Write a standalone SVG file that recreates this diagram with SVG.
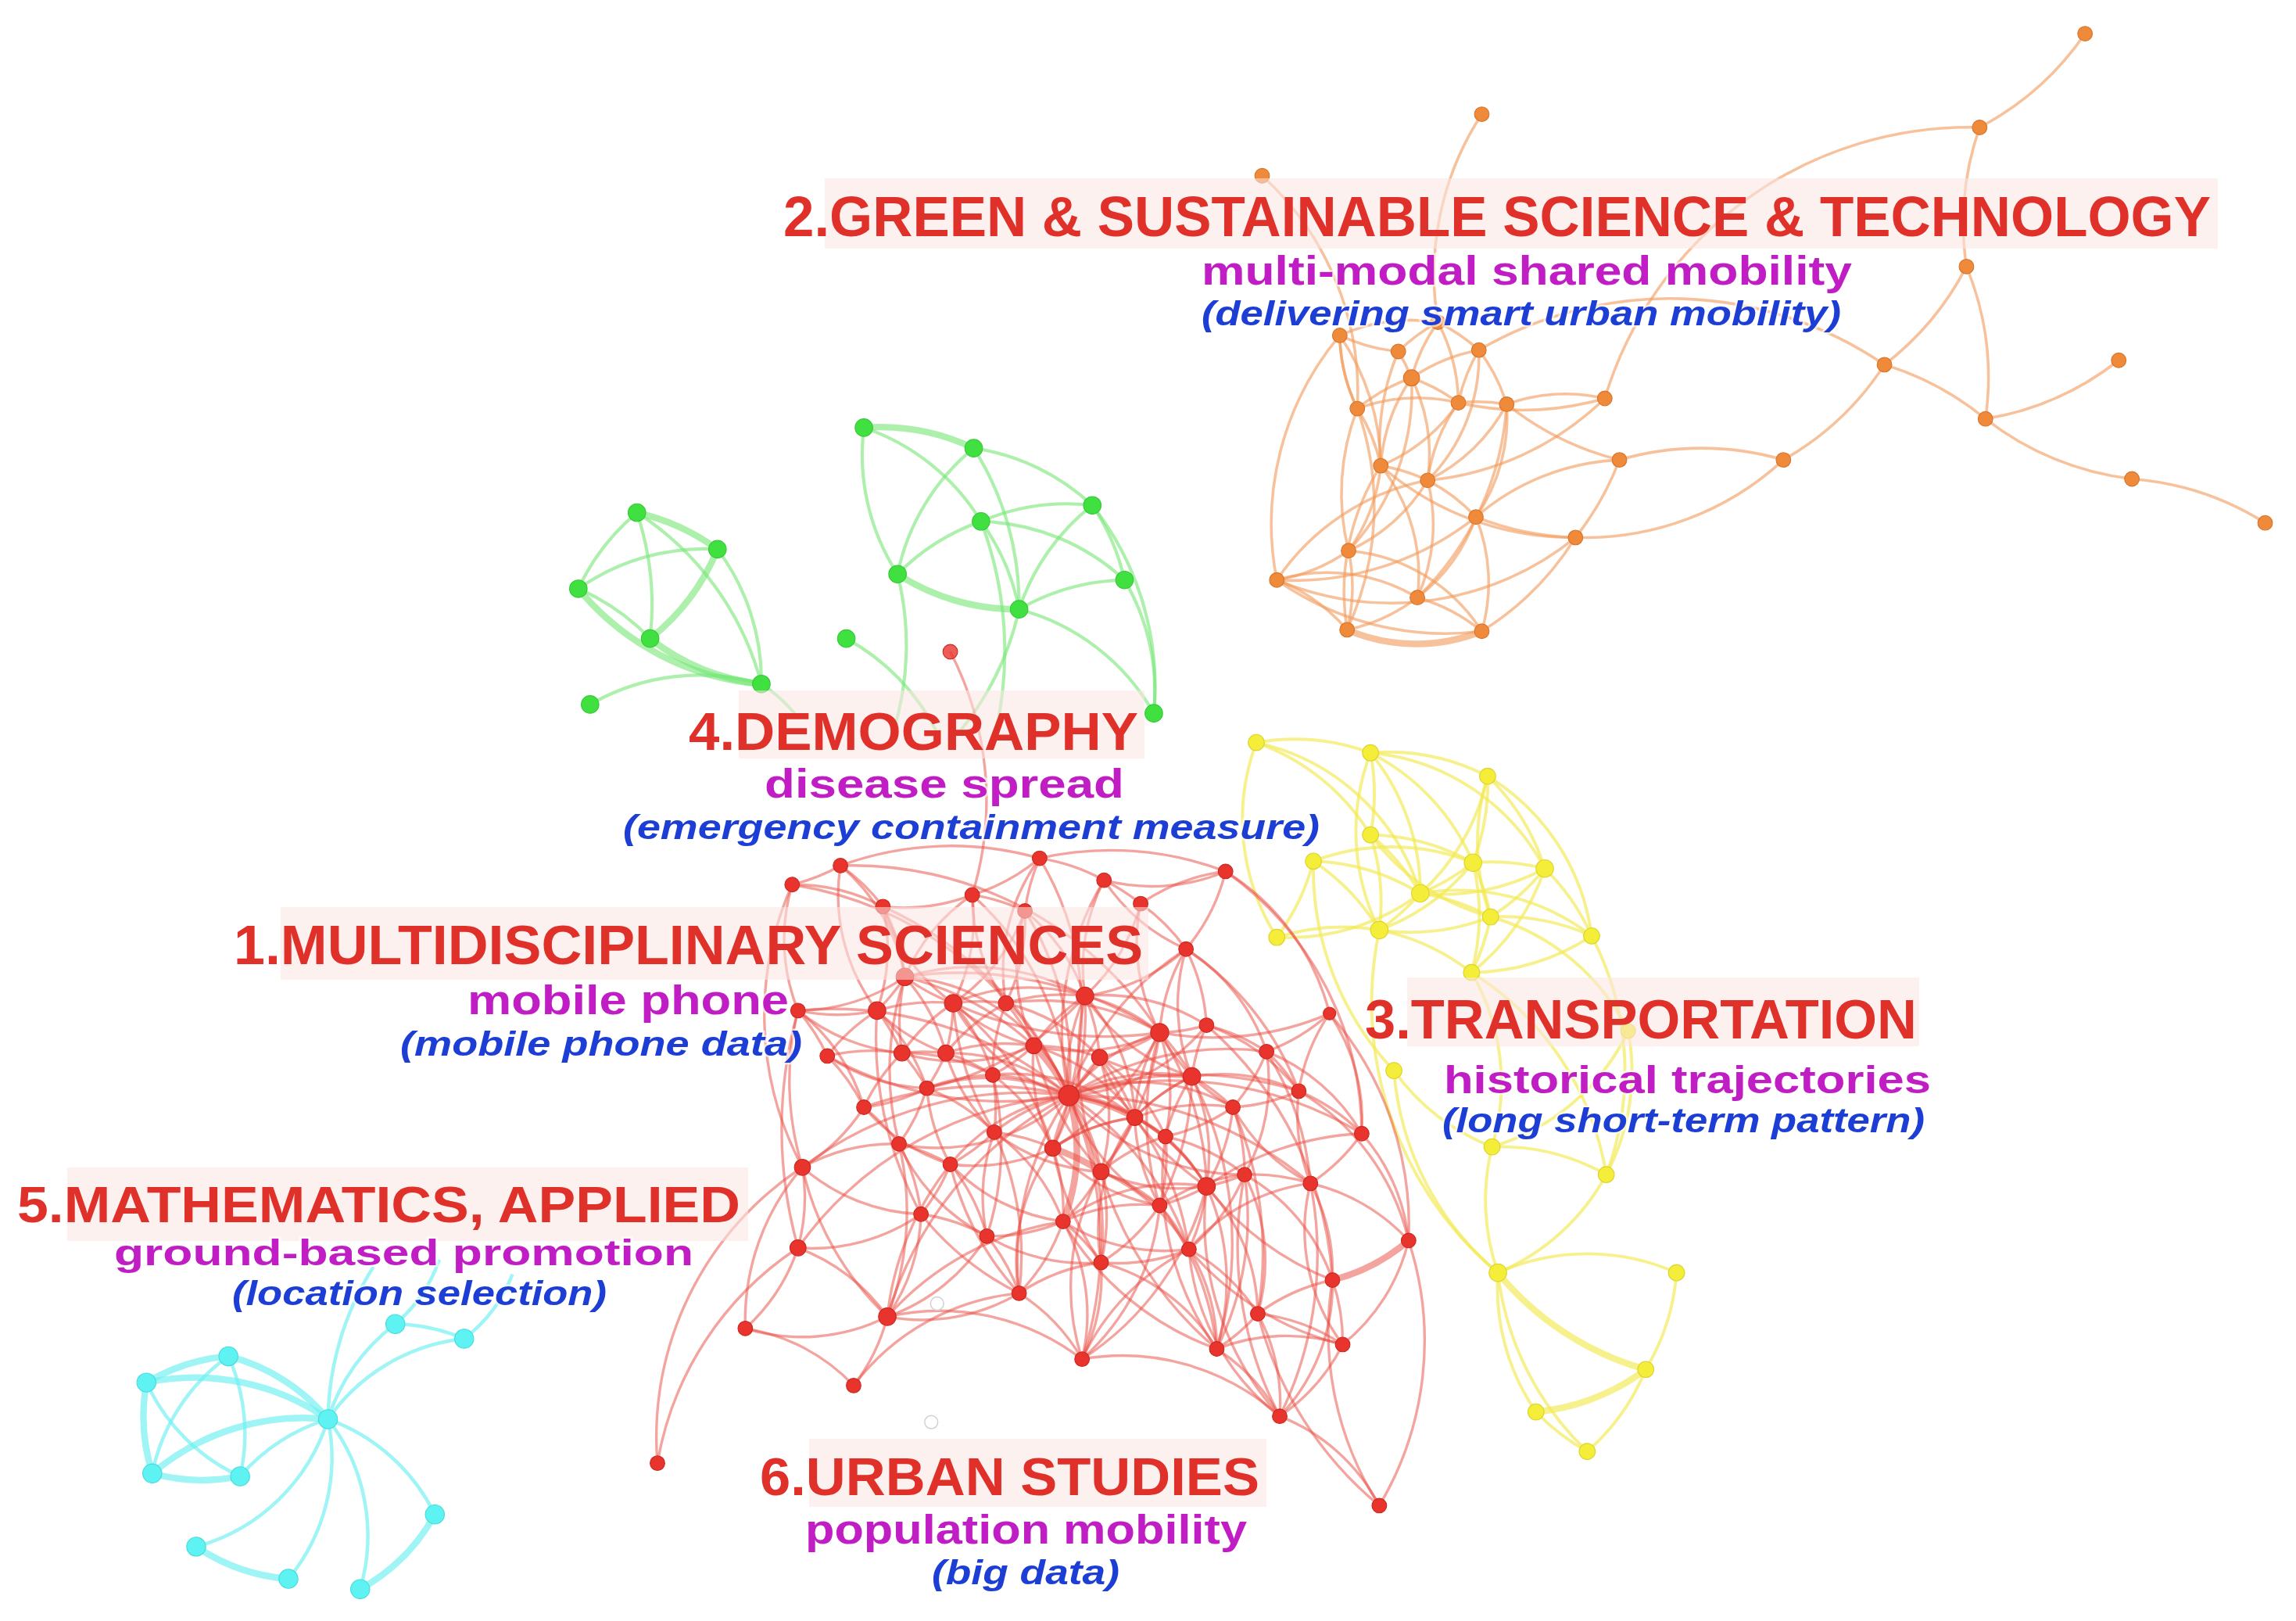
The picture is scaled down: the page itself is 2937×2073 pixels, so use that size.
<svg xmlns="http://www.w3.org/2000/svg" width="2937" height="2073" viewBox="0 0 2937 2073">
<style>
.er{fill:none;stroke:#ea4a40;stroke-opacity:.5;stroke-width:1.8}
.eo{fill:none;stroke:#f29a58;stroke-opacity:.6;stroke-width:1.9}
.eg{fill:none;stroke:#74e674;stroke-opacity:.6;stroke-width:2.2}
.ey{fill:none;stroke:#f2ea50;stroke-opacity:.65;stroke-width:2.1}
.ec{fill:none;stroke:#6cf0f0;stroke-opacity:.65;stroke-width:2.4}
.tk{stroke-width:4.5}
.nr{fill:#e8342c;stroke:#c82a22;stroke-width:.6}
.no{fill:#ee8a3a;stroke:#d8742c;stroke-width:.6}
.ng{fill:#40e040;stroke:#34c834;stroke-width:.6}
.ny{fill:#f4ee3a;stroke:#ddd42a;stroke-width:.6}
.nc{fill:#5ef2f2;stroke:#46dcdc;stroke-width:.6}
.nh{fill:#fff;stroke:#d0d0d0;stroke-width:.8}
.bg{fill:#fbe6e4;fill-opacity:.55}
.t{font-family:"Liberation Sans",Arial,sans-serif;font-weight:bold;fill:#e0302a}
.s{font-family:"Liberation Sans",Arial,sans-serif;font-weight:bold;fill:#c01ec4;stroke:#fff;stroke-width:5;stroke-opacity:.6;paint-order:stroke}
.p{font-family:"Liberation Sans",Arial,sans-serif;font-weight:bold;font-style:italic;fill:#1c3ed4;stroke:#fff;stroke-width:5;stroke-opacity:.6;paint-order:stroke}
</style>
<rect width="2937" height="2073" fill="#fff"/>
<g transform="scale(1.873)">
<g id="connectors">
<g id="edges-orange">
<path class="eo" d="M1424 23A200 200 0 0 1 1352 87"/>
<path class="eo" d="M1343 182A200 200 0 0 1 1352 87"/>
<path class="eo" d="M1096 272A260 260 0 0 1 1352 87"/>
<path class="eo" d="M1343 182A200 200 0 0 1 1287 249"/>
<path class="eo" d="M1343 182A200 200 0 0 1 1356 286"/>
<path class="eo" d="M1447 246A200 200 0 0 1 1356 286"/>
<path class="eo" d="M1287 249A200 200 0 0 1 1356 286"/>
<path class="eo" d="M1456 327A200 200 0 0 1 1356 286"/>
<path class="eo" d="M1456 327A200 200 0 0 1 1547 357"/>
<path class="eo" d="M1287 249A200 200 0 0 1 1218 314"/>
<path class="eo" d="M1218 314A200 200 0 0 1 1076 367"/>
<path class="eo" d="M1106 314A200 200 0 0 1 1218 314"/>
<path class="eo" d="M1106 314A200 200 0 0 1 1076 367"/>
<path class="eo" d="M1076 367A200 200 0 0 1 1008 353"/>
<path class="eo" d="M1096 272A200 200 0 0 1 996 275"/>
<path class="eo" d="M1096 272A200 200 0 0 1 975 328"/>
<path class="eo" d="M1012 78A200 200 0 0 0 982 220"/>
<path class="eo" d="M862 120A200 200 0 0 1 927 279"/>
<path class="eo" d="M1076 367A200 200 0 0 1 943 318"/>
<path class="eo" d="M1076 367A200 200 0 0 1 872 396"/>
<path class="eo" d="M1106 314A200 200 0 0 1 1029 276"/>
<path class="eo" d="M1010 239A260 260 0 0 1 1287 249"/>
<path class="eo" d="M927 279A120 120 0 0 1 964 258"/>
<path class="eo" d="M927 279A120 120 0 0 1 996 275"/>
<path class="eo" d="M964 258A120 120 0 0 1 996 275"/>
<path class="eo" d="M996 275A120 120 0 0 1 1029 276"/>
<path class="eo" d="M964 258A120 120 0 0 1 1010 239"/>
<path class="eo" d="M1010 239A120 120 0 0 1 1029 276"/>
<path class="eo" d="M915 229A120 120 0 0 1 982 220"/>
<path class="eo" d="M982 220A120 120 0 0 1 1010 239"/>
<path class="eo" d="M927 279A120 120 0 0 1 915 229"/>
<path class="eo" d="M955 240A120 120 0 0 1 964 258"/>
<path class="eo" d="M955 240A120 120 0 0 1 915 229"/>
<path class="eo" d="M955 240A120 120 0 0 1 982 220"/>
<path class="eo" d="M927 279A120 120 0 0 1 943 318"/>
<path class="eo" d="M943 318A120 120 0 0 1 975 328"/>
<path class="eo" d="M964 258A120 120 0 0 1 975 328"/>
<path class="eo" d="M975 328A120 120 0 0 1 996 275"/>
<path class="eo" d="M1029 276A120 120 0 0 1 1008 353"/>
<path class="eo" d="M975 328A120 120 0 0 1 1008 353"/>
<path class="eo" d="M943 318A120 120 0 0 1 921 376"/>
<path class="eo" d="M975 328A120 120 0 0 1 921 376"/>
<path class="eo" d="M921 376A120 120 0 0 1 872 396"/>
<path class="eo" d="M921 376A120 120 0 0 1 920 430"/>
<path class="eo" d="M872 396A120 120 0 0 1 920 430"/>
<path class="eo" d="M872 396A120 120 0 0 1 968 408"/>
<path class="eo" d="M968 408A120 120 0 0 1 920 430"/>
<path class="eo tk" d="M920 430A120 120 0 0 0 1012 431"/>
<path class="eo" d="M968 408A120 120 0 0 1 1012 431"/>
<path class="eo" d="M1008 353A120 120 0 0 1 968 408"/>
<path class="eo" d="M1008 353A120 120 0 0 1 1012 431"/>
<path class="eo" d="M975 328A120 120 0 0 1 968 408"/>
<path class="eo" d="M943 318A160 160 0 0 0 920 430"/>
<path class="eo" d="M927 279A160 160 0 0 0 921 376"/>
<path class="eo" d="M1029 276A120 120 0 0 1 975 328"/>
<path class="eo" d="M996 275A120 120 0 0 1 943 318"/>
<path class="eo" d="M921 376A120 120 0 0 1 1012 431"/>
<path class="eo" d="M872 396A200 200 0 0 0 1012 431"/>
<path class="eo" d="M1008 353A200 200 0 0 1 872 396"/>
<path class="eo" d="M1010 239A120 120 0 0 1 975 328"/>
<path class="eo" d="M927 279A200 200 0 0 1 920 430"/>
<path class="eo" d="M964 258A160 160 0 0 1 921 376"/>
<path class="eo" d="M915 229A160 160 0 0 1 943 318"/>
<path class="eo" d="M982 220A120 120 0 0 1 996 275"/>
<path class="eo" d="M1029 276A120 120 0 0 1 1096 272"/>
<path class="eo" d="M943 318A120 120 0 0 1 968 408"/>
<path class="eo" d="M872 396A160 160 0 0 1 975 328"/>
<path class="eo" d="M1008 353A160 160 0 0 1 1106 314"/>
<path class="eo" d="M1012 431A200 200 0 0 0 1076 367"/>
<path class="eo" d="M915 229A120 120 0 0 0 927 279"/>
<path class="eo" d="M982 220A120 120 0 0 0 964 258"/>
<path class="eo" d="M964 258A120 120 0 0 0 943 318"/>
<path class="eo" d="M1010 239A120 120 0 0 0 996 275"/>
<path class="eo" d="M955 240A160 160 0 0 0 943 318"/>
<path class="eo" d="M915 229A200 200 0 0 0 872 396"/>
<path class="eo" d="M1029 276A200 200 0 0 1 968 408"/>
</g>
<g id="edges-green">
<path class="eg tk" d="M435 350A150 150 0 0 1 490 375"/>
<path class="eg" d="M395 402A150 150 0 0 1 435 350"/>
<path class="eg" d="M435 350A200 200 0 0 1 444 436"/>
<path class="eg" d="M435 350A200 200 0 0 1 520 467"/>
<path class="eg" d="M395 402A150 150 0 0 1 490 375"/>
<path class="eg tk" d="M490 375A150 150 0 0 1 444 436"/>
<path class="eg" d="M490 375A150 150 0 0 1 520 467"/>
<path class="eg" d="M395 402A150 150 0 0 1 444 436"/>
<path class="eg tk" d="M395 402A180 180 0 0 0 520 467"/>
<path class="eg tk" d="M444 436A150 150 0 0 0 520 467"/>
<path class="eg" d="M403 481A150 150 0 0 1 520 467"/>
<path class="eg tk" d="M590 292A150 150 0 0 1 665 306"/>
<path class="eg" d="M613 392A150 150 0 0 1 590 292"/>
<path class="eg" d="M590 292A150 150 0 0 1 670 356"/>
<path class="eg" d="M665 306A150 150 0 0 1 746 345"/>
<path class="eg" d="M665 306A150 150 0 0 0 613 392"/>
<path class="eg" d="M665 306A200 200 0 0 1 696 416"/>
<path class="eg" d="M746 345A150 150 0 0 0 670 356"/>
<path class="eg" d="M746 345A150 150 0 0 0 696 416"/>
<path class="eg" d="M746 345A150 150 0 0 1 768 396"/>
<path class="eg" d="M746 345A200 200 0 0 1 788 487"/>
<path class="eg" d="M670 356A150 150 0 0 0 613 392"/>
<path class="eg" d="M670 356A150 150 0 0 1 768 396"/>
<path class="eg" d="M670 356A150 150 0 0 1 696 416"/>
<path class="eg tk" d="M613 392A150 150 0 0 0 696 416"/>
<path class="eg" d="M768 396A150 150 0 0 0 696 416"/>
<path class="eg" d="M768 396A150 150 0 0 1 788 487"/>
<path class="eg" d="M696 416A150 150 0 0 1 788 487"/>
<path class="eg" d="M578 436A150 150 0 0 1 640 500"/>
<path class="eg" d="M613 392A200 200 0 0 1 610 500"/>
<path class="eg" d="M696 416A200 200 0 0 1 655 500"/>
<path class="eg" d="M670 356A250 250 0 0 1 680 500"/>
<path class="eg" d="M520 467A100 100 0 0 1 545 490"/>
</g>
<g id="edges-yellow">
<path class="ey" d="M858 507A150 150 0 0 1 936 514"/>
<path class="ey" d="M858 507A150 150 0 0 1 970 610"/>
<path class="ey" d="M872 640A150 150 0 0 1 858 507"/>
<path class="ey" d="M936 514A150 150 0 0 1 936 570"/>
<path class="ey" d="M936 514A150 150 0 0 1 1016 530"/>
<path class="ey" d="M936 514A150 150 0 0 1 970 610"/>
<path class="ey" d="M936 514A150 150 0 0 1 1006 589"/>
<path class="ey" d="M942 635A150 150 0 0 1 936 514"/>
<path class="ey" d="M1016 530A150 150 0 0 1 1006 589"/>
<path class="ey" d="M1016 530A150 150 0 0 1 1055 593"/>
<path class="ey" d="M1016 530A150 150 0 0 0 1018 626"/>
<path class="ey" d="M1016 530A150 150 0 0 1 1087 639"/>
<path class="ey" d="M936 570A150 150 0 0 1 970 610"/>
<path class="ey" d="M936 570A150 150 0 0 1 942 635"/>
<path class="ey" d="M936 570A150 150 0 0 1 1006 589"/>
<path class="ey" d="M897 588A150 150 0 0 1 1006 589"/>
<path class="ey" d="M897 588A150 150 0 0 1 970 610"/>
<path class="ey" d="M897 588A150 150 0 0 1 872 640"/>
<path class="ey" d="M897 588A150 150 0 0 1 942 635"/>
<path class="ey" d="M1006 589A150 150 0 0 1 1055 593"/>
<path class="ey" d="M1006 589A150 150 0 0 1 970 610"/>
<path class="ey" d="M1006 589A150 150 0 0 1 1018 626"/>
<path class="ey" d="M1006 589A150 150 0 0 1 942 635"/>
<path class="ey" d="M1006 589A150 150 0 0 1 1005 664"/>
<path class="ey" d="M1055 593A150 150 0 0 1 1018 626"/>
<path class="ey" d="M1055 593A150 150 0 0 1 1087 639"/>
<path class="ey" d="M1055 593A150 150 0 0 1 1005 664"/>
<path class="ey" d="M970 610A150 150 0 0 1 1018 626"/>
<path class="ey" d="M970 610A150 150 0 0 1 1087 639"/>
<path class="ey" d="M970 610A150 150 0 0 1 942 635"/>
<path class="ey" d="M1018 626A150 150 0 0 1 1087 639"/>
<path class="ey" d="M1018 626A150 150 0 0 1 1005 664"/>
<path class="ey" d="M872 640A150 150 0 0 1 942 635"/>
<path class="ey" d="M872 640A150 150 0 0 0 970 610"/>
<path class="ey" d="M942 635A150 150 0 0 1 1005 664"/>
<path class="ey" d="M942 635A150 150 0 0 0 1018 626"/>
<path class="ey" d="M1087 639A150 150 0 0 1 1005 664"/>
<path class="ey" d="M858 507A150 150 0 0 1 936 570"/>
<path class="ey" d="M1016 530A150 150 0 0 1 970 610"/>
<path class="ey" d="M936 514A150 150 0 0 1 1055 593"/>
<path class="ey" d="M970 610A150 150 0 0 0 1055 593"/>
<path class="ey" d="M936 570A150 150 0 0 0 1018 626"/>
<path class="ey" d="M942 635A240 240 0 0 0 1023 869"/>
<path class="ey" d="M952 731A200 200 0 0 0 1023 869"/>
<path class="ey" d="M1005 664A150 150 0 0 1 1019 783"/>
<path class="ey" d="M1087 639A200 200 0 0 1 1097 802"/>
<path class="ey" d="M1019 783A150 150 0 0 1 1097 802"/>
<path class="ey" d="M1019 783A150 150 0 0 0 1023 869"/>
<path class="ey" d="M1097 802A150 150 0 0 1 1023 869"/>
<path class="ey" d="M1023 869A150 150 0 0 1 1145 869"/>
<path class="ey tk" d="M1023 869A200 200 0 0 0 1124 935"/>
<path class="ey" d="M1023 869A150 150 0 0 0 1049 964"/>
<path class="ey" d="M1023 869A200 200 0 0 0 1084 991"/>
<path class="ey" d="M1145 869A150 150 0 0 1 1124 935"/>
<path class="ey tk" d="M1124 935A150 150 0 0 1 1049 964"/>
<path class="ey" d="M1049 964A150 150 0 0 0 1084 991"/>
<path class="ey" d="M1124 935A150 150 0 0 1 1084 991"/>
<path class="ey" d="M1018 626A150 150 0 0 1 1112 704"/>
<path class="ey" d="M1112 704A150 150 0 0 1 1097 802"/>
<path class="ey" d="M1019 783A150 150 0 0 0 1112 704"/>
<path class="ey" d="M952 731A150 150 0 0 0 1019 783"/>
<path class="ey" d="M897 588A200 200 0 0 0 952 731"/>
<path class="ey" d="M1005 664A200 200 0 0 1 1097 802"/>
</g>
<g id="edges-cyan">
<path class="ec tk" d="M100 944A130 130 0 0 1 156 926"/>
<path class="ec tk" d="M156 926A130 130 0 0 1 224 969"/>
<path class="ec" d="M156 926A130 130 0 0 0 104 1006"/>
<path class="ec" d="M156 926A130 130 0 0 1 164 1008"/>
<path class="ec tk" d="M100 944A130 130 0 0 0 104 1006"/>
<path class="ec" d="M100 944A130 130 0 0 0 164 1008"/>
<path class="ec tk" d="M100 944A160 160 0 0 1 224 969"/>
<path class="ec tk" d="M104 1006A130 130 0 0 0 164 1008"/>
<path class="ec tk" d="M104 1006A160 160 0 0 1 224 969"/>
<path class="ec" d="M164 1008A130 130 0 0 1 224 969"/>
<path class="ec" d="M224 969A130 130 0 0 1 270 904"/>
<path class="ec" d="M224 969A130 130 0 0 1 317 914"/>
<path class="ec" d="M270 904A130 130 0 0 1 317 914"/>
<path class="ec" d="M224 969A130 130 0 0 1 297 1034"/>
<path class="ec" d="M224 969A130 130 0 0 1 134 1056"/>
<path class="ec" d="M224 969A130 130 0 0 1 197 1078"/>
<path class="ec" d="M224 969A130 130 0 0 1 246 1085"/>
<path class="ec tk" d="M297 1034A130 130 0 0 1 246 1085"/>
<path class="ec tk" d="M134 1056A130 130 0 0 0 197 1078"/>
<path class="ec" d="M224 969A200 200 0 0 1 255 865"/>
<path class="ec" d="M270 904A100 100 0 0 0 300 860"/>
<path class="ec" d="M317 914A100 100 0 0 0 350 870"/>
</g>
<g id="edges-red">
<path class="er" d="M574 591A130 130 0 0 1 541 604"/>
<path class="er" d="M574 591A220 220 0 0 1 710 586"/>
<path class="er" d="M574 591A130 130 0 0 1 603 619"/>
<path class="er" d="M574 591A130 130 0 0 1 618 667"/>
<path class="er" d="M541 604A130 130 0 0 1 603 619"/>
<path class="er" d="M545 690A130 130 0 0 1 541 604"/>
<path class="er" d="M710 586A130 130 0 0 1 664 611"/>
<path class="er" d="M710 586A130 130 0 0 1 754 601"/>
<path class="er" d="M700 622A130 130 0 0 1 710 586"/>
<path class="er" d="M837 595A130 130 0 0 1 754 601"/>
<path class="er" d="M779 617A130 130 0 0 1 837 595"/>
<path class="er" d="M837 595A130 130 0 0 1 810 648"/>
<path class="er" d="M837 595A160 160 0 0 1 908 692"/>
<path class="er" d="M664 611A130 130 0 0 1 603 619"/>
<path class="er" d="M664 611A130 130 0 0 1 700 622"/>
<path class="er" d="M618 667A130 130 0 0 1 664 611"/>
<path class="er" d="M664 611A130 130 0 0 1 651 685"/>
<path class="er" d="M754 601A130 130 0 0 1 779 617"/>
<path class="er" d="M741 680A130 130 0 0 1 754 601"/>
<path class="er" d="M779 617A130 130 0 0 1 810 648"/>
<path class="er" d="M779 617A130 130 0 0 1 741 680"/>
<path class="er" d="M603 619A130 130 0 0 1 618 667"/>
<path class="er" d="M700 622A130 130 0 0 1 687 685"/>
<path class="er" d="M700 622A130 130 0 0 1 741 680"/>
<path class="er" d="M810 648A130 130 0 0 1 824 700"/>
<path class="er" d="M792 705A130 130 0 0 1 810 648"/>
<path class="er" d="M810 648A130 130 0 0 1 865 718"/>
<path class="er" d="M908 692A130 130 0 0 1 865 718"/>
<path class="er" d="M908 692A130 130 0 0 1 930 774"/>
<path class="er" d="M887 745A130 130 0 0 1 908 692"/>
<path class="er" d="M618 667A130 130 0 0 1 599 690"/>
<path class="er" d="M651 685A130 130 0 0 1 618 667"/>
<path class="er" d="M618 667A130 130 0 0 1 545 690"/>
<path class="er" d="M599 690A130 130 0 0 1 545 690"/>
<path class="er" d="M565 721A130 130 0 0 1 599 690"/>
<path class="er" d="M599 690A130 130 0 0 1 616 719"/>
<path class="er" d="M651 685A130 130 0 0 1 687 685"/>
<path class="er" d="M616 719A130 130 0 0 1 651 685"/>
<path class="er" d="M651 685A130 130 0 0 1 646 719"/>
<path class="er" d="M687 685A130 130 0 0 1 741 680"/>
<path class="er" d="M687 685A130 130 0 0 1 706 714"/>
<path class="er" d="M678 734A130 130 0 0 1 687 685"/>
<path class="er" d="M741 680A130 130 0 0 1 792 705"/>
<path class="er" d="M706 714A130 130 0 0 1 741 680"/>
<path class="er" d="M741 680A130 130 0 0 1 751 722"/>
<path class="er" d="M545 690A130 130 0 0 1 565 721"/>
<path class="er" d="M824 700A130 130 0 0 1 792 705"/>
<path class="er" d="M824 700A130 130 0 0 1 865 718"/>
<path class="er" d="M814 735A130 130 0 0 1 824 700"/>
<path class="er" d="M824 700A130 130 0 0 1 887 745"/>
<path class="er" d="M792 705A130 130 0 0 1 751 722"/>
<path class="er" d="M792 705A130 130 0 0 1 814 735"/>
<path class="er" d="M775 763A130 130 0 0 1 792 705"/>
<path class="er" d="M865 718A130 130 0 0 1 887 745"/>
<path class="er" d="M865 718A130 130 0 0 1 850 802"/>
<path class="er" d="M865 718A130 130 0 0 1 930 774"/>
<path class="er" d="M565 721A130 130 0 0 1 590 756"/>
<path class="er" d="M616 719A130 130 0 0 1 633 743"/>
<path class="er" d="M590 756A130 130 0 0 1 616 719"/>
<path class="er" d="M646 719A130 130 0 0 1 678 734"/>
<path class="er" d="M646 719A130 130 0 0 1 633 743"/>
<path class="er" d="M706 714A130 130 0 0 1 751 722"/>
<path class="er" d="M706 714A130 130 0 0 1 678 734"/>
<path class="er tk" d="M706 714A130 130 0 0 1 730 748"/>
<path class="er" d="M751 722A130 130 0 0 1 730 748"/>
<path class="er" d="M751 722A130 130 0 0 1 775 763"/>
<path class="er" d="M814 735A130 130 0 0 1 842 756"/>
<path class="er" d="M796 776A130 130 0 0 1 814 735"/>
<path class="er" d="M814 735A130 130 0 0 1 824 810"/>
<path class="er" d="M678 734A130 130 0 0 1 730 748"/>
<path class="er" d="M678 734A130 130 0 0 1 679 773"/>
<path class="er tk" d="M730 748A130 130 0 0 1 775 763"/>
<path class="er" d="M679 773A130 130 0 0 1 730 748"/>
<path class="er" d="M730 748A130 130 0 0 1 719 784"/>
<path class="er" d="M730 748A130 130 0 0 1 752 800"/>
<path class="er" d="M730 748A130 130 0 0 1 796 776"/>
<path class="er" d="M730 748A130 130 0 0 1 741 680"/>
<path class="er" d="M730 748A130 130 0 0 1 792 705"/>
<path class="er" d="M646 719A130 130 0 0 1 730 748"/>
<path class="er" d="M730 748A130 130 0 0 1 651 685"/>
<path class="er" d="M618 667A130 130 0 0 1 730 748"/>
<path class="er" d="M824 700A130 130 0 0 1 730 748"/>
<path class="er" d="M730 748A130 130 0 0 1 842 756"/>
<path class="er" d="M730 748A130 130 0 0 1 814 735"/>
<path class="er" d="M633 743A130 130 0 0 1 590 756"/>
<path class="er" d="M633 743A130 130 0 0 1 614 781"/>
<path class="er" d="M590 756A130 130 0 0 1 614 781"/>
<path class="er" d="M590 756A130 130 0 0 1 548 797"/>
<path class="er" d="M887 745A130 130 0 0 1 842 756"/>
<path class="er" d="M887 745A130 130 0 0 1 930 774"/>
<path class="er" d="M895 808A130 130 0 0 1 887 745"/>
<path class="er" d="M887 745A160 160 0 0 1 962 847"/>
<path class="er" d="M842 756A130 130 0 0 1 850 802"/>
<path class="er" d="M775 763A130 130 0 0 1 796 776"/>
<path class="er" d="M775 763A130 130 0 0 1 752 800"/>
<path class="er" d="M752 862A130 130 0 0 1 775 763"/>
<path class="er" d="M679 773A130 130 0 0 1 719 784"/>
<path class="er" d="M679 773A130 130 0 0 1 649 795"/>
<path class="er" d="M674 844A130 130 0 0 1 679 773"/>
<path class="er" d="M614 781A130 130 0 0 1 649 795"/>
<path class="er" d="M548 797A130 130 0 0 1 614 781"/>
<path class="er" d="M614 781A130 130 0 0 1 629 829"/>
<path class="er tk" d="M719 784A130 130 0 0 1 752 800"/>
<path class="er" d="M719 784A130 130 0 0 1 726 834"/>
<path class="er" d="M696 883A130 130 0 0 1 719 784"/>
<path class="er" d="M796 776A130 130 0 0 1 792 823"/>
<path class="er" d="M930 774A130 130 0 0 1 895 808"/>
<path class="er" d="M930 774A130 130 0 0 1 962 847"/>
<path class="er" d="M649 795A130 130 0 0 1 629 829"/>
<path class="er" d="M649 795A130 130 0 0 1 674 844"/>
<path class="er" d="M752 800A130 130 0 0 1 792 823"/>
<path class="er" d="M752 800A130 130 0 0 1 726 834"/>
<path class="er" d="M752 800A130 130 0 0 1 752 862"/>
<path class="er" d="M739 928A160 160 0 0 1 752 800"/>
<path class="er" d="M548 797A130 130 0 0 1 545 852"/>
<path class="er" d="M850 802A130 130 0 0 1 824 810"/>
<path class="er" d="M850 802A130 130 0 0 1 895 808"/>
<path class="er" d="M850 802A130 130 0 0 1 910 874"/>
<path class="er" d="M824 810A130 130 0 0 1 792 823"/>
<path class="er" d="M824 810A130 130 0 0 1 812 853"/>
<path class="er" d="M824 810A130 130 0 0 1 859 897"/>
<path class="er" d="M895 808A130 130 0 0 1 962 847"/>
<path class="er" d="M895 808A130 130 0 0 1 910 874"/>
<path class="er" d="M917 918A130 130 0 0 1 895 808"/>
<path class="er" d="M792 823A130 130 0 0 1 812 853"/>
<path class="er" d="M792 823A160 160 0 0 1 739 928"/>
<path class="er" d="M629 829A130 130 0 0 1 545 852"/>
<path class="er" d="M629 829A130 130 0 0 1 674 844"/>
<path class="er" d="M629 829A130 130 0 0 1 606 899"/>
<path class="er" d="M726 834A130 130 0 0 1 674 844"/>
<path class="er" d="M726 834A130 130 0 0 1 752 862"/>
<path class="er" d="M726 834A130 130 0 0 1 696 883"/>
<path class="er" d="M545 852A130 130 0 0 1 606 899"/>
<path class="er" d="M545 852A130 130 0 0 1 509 907"/>
<path class="er" d="M449 999A220 220 0 0 1 545 852"/>
<path class="er" d="M674 844A130 130 0 0 1 696 883"/>
<path class="er" d="M674 844A130 130 0 0 1 606 899"/>
<path class="er" d="M812 853A130 130 0 0 1 752 862"/>
<path class="er" d="M812 853A130 130 0 0 1 859 897"/>
<path class="er" d="M812 853A130 130 0 0 1 831 921"/>
<path class="er" d="M874 967A160 160 0 0 1 812 853"/>
<path class="er tk" d="M962 847A130 130 0 0 1 910 874"/>
<path class="er" d="M962 847A130 130 0 0 1 917 918"/>
<path class="er" d="M962 847A220 220 0 0 1 942 1028"/>
<path class="er" d="M752 862A130 130 0 0 1 831 921"/>
<path class="er" d="M752 862A130 130 0 0 1 739 928"/>
<path class="er" d="M910 874A130 130 0 0 1 917 918"/>
<path class="er" d="M910 874A130 130 0 0 1 874 967"/>
<path class="er" d="M696 883A130 130 0 0 1 606 899"/>
<path class="er" d="M696 883A130 130 0 0 1 739 928"/>
<path class="er" d="M606 899A130 130 0 0 1 509 907"/>
<path class="er" d="M606 899A160 160 0 0 1 739 928"/>
<path class="er" d="M606 899A130 130 0 0 1 583 946"/>
<path class="er" d="M859 897A130 130 0 0 1 831 921"/>
<path class="er" d="M859 897A130 130 0 0 1 917 918"/>
<path class="er" d="M859 897A130 130 0 0 1 874 967"/>
<path class="er" d="M509 907A160 160 0 0 1 548 797"/>
<path class="er" d="M831 921A130 130 0 0 1 917 918"/>
<path class="er" d="M831 921A130 130 0 0 1 874 967"/>
<path class="er" d="M917 918A130 130 0 0 1 874 967"/>
<path class="er" d="M874 967A130 130 0 0 1 942 1028"/>
<path class="er" d="M942 1028A220 220 0 0 1 910 874"/>
<path class="er" d="M449 999A220 220 0 0 1 548 797"/>
<path class="er" d="M739 928A160 160 0 0 1 874 967"/>
<path class="er" d="M649 445A220 220 0 0 1 664 611"/>
<path class="er" d="M548 797A220 220 0 0 1 541 604"/>
<path class="er" d="M710 586A220 220 0 0 1 837 595"/>
<path class="er" d="M837 595A220 220 0 0 1 930 774"/>
<path class="er" d="M700 622A130 130 0 0 1 651 685"/>
<path class="er" d="M706 714A130 130 0 0 1 775 763"/>
<path class="er" d="M678 734A130 130 0 0 1 719 784"/>
<path class="er" d="M633 743A130 130 0 0 1 679 773"/>
<path class="er" d="M616 719A130 130 0 0 1 646 719"/>
<path class="er" d="M842 756A130 130 0 0 1 796 776"/>
<path class="er" d="M796 776A130 130 0 0 1 824 810"/>
<path class="er" d="M824 810A160 160 0 0 1 831 921"/>
<path class="er" d="M792 823A130 130 0 0 1 752 862"/>
<path class="er" d="M726 834A130 130 0 0 1 739 928"/>
<path class="er" d="M775 763A130 130 0 0 1 814 735"/>
<path class="er" d="M741 680A130 130 0 0 1 775 763"/>
<path class="er" d="M583 946A160 160 0 0 1 696 883"/>
<path class="er" d="M509 907A130 130 0 0 1 583 946"/>
<path class="er" d="M603 619A130 130 0 0 1 599 690"/>
<path class="er" d="M865 718A130 130 0 0 1 842 756"/>
<path class="er" d="M850 802A130 130 0 0 1 859 897"/>
<path class="er" d="M719 784A130 130 0 0 1 775 763"/>
<path class="er" d="M751 722A130 130 0 0 1 752 800"/>
<path class="er" d="M908 692A220 220 0 0 1 962 847"/>
<path class="er" d="M618 667A130 130 0 0 0 616 719"/>
<path class="er" d="M618 667A130 130 0 0 1 646 719"/>
<path class="er" d="M618 667A160 160 0 0 1 741 680"/>
<path class="er" d="M599 690A130 130 0 0 1 651 685"/>
<path class="er" d="M599 690A130 130 0 0 0 646 719"/>
<path class="er" d="M599 690A130 130 0 0 1 633 743"/>
<path class="er" d="M651 685A130 130 0 0 1 741 680"/>
<path class="er" d="M651 685A130 130 0 0 0 706 714"/>
<path class="er" d="M651 685A130 130 0 0 1 678 734"/>
<path class="er" d="M687 685A130 130 0 0 1 751 722"/>
<path class="er" d="M687 685A130 130 0 0 0 646 719"/>
<path class="er" d="M687 685A160 160 0 0 1 792 705"/>
<path class="er" d="M741 680A130 130 0 0 0 814 735"/>
<path class="er" d="M741 680A130 130 0 0 1 824 700"/>
<path class="er" d="M545 690A130 130 0 0 0 616 719"/>
<path class="er" d="M545 690A130 130 0 0 1 590 756"/>
<path class="er" d="M706 714A130 130 0 0 0 792 705"/>
<path class="er" d="M792 705A130 130 0 0 0 842 756"/>
<path class="er" d="M792 705A130 130 0 0 1 796 776"/>
<path class="er" d="M565 721A130 130 0 0 1 616 719"/>
<path class="er" d="M565 721A130 130 0 0 0 633 743"/>
<path class="er" d="M616 719A130 130 0 0 0 706 714"/>
<path class="er" d="M616 719A130 130 0 0 1 678 734"/>
<path class="er" d="M646 719A130 130 0 0 1 706 714"/>
<path class="er" d="M646 719A130 130 0 0 0 679 773"/>
<path class="er" d="M706 714A130 130 0 0 0 719 784"/>
<path class="er" d="M751 722A130 130 0 0 0 814 735"/>
<path class="er" d="M751 722A130 130 0 0 1 796 776"/>
<path class="er" d="M751 722A130 130 0 0 0 719 784"/>
<path class="er" d="M814 735A130 130 0 0 0 775 763"/>
<path class="er" d="M814 735A130 130 0 0 1 887 745"/>
<path class="er" d="M678 734A130 130 0 0 0 633 743"/>
<path class="er" d="M678 734A130 130 0 0 1 775 763"/>
<path class="er" d="M633 743A130 130 0 0 1 730 748"/>
<path class="er" d="M730 748A130 130 0 0 1 614 781"/>
<path class="er" d="M730 748A130 130 0 0 0 649 795"/>
<path class="er tk" d="M730 748A130 130 0 0 1 726 834"/>
<path class="er" d="M730 748A130 130 0 0 0 792 823"/>
<path class="er" d="M730 748A130 130 0 0 1 824 810"/>
<path class="er" d="M730 748A160 160 0 0 0 850 802"/>
<path class="er" d="M633 743A130 130 0 0 0 649 795"/>
<path class="er" d="M590 756A130 130 0 0 0 649 795"/>
<path class="er" d="M842 756A130 130 0 0 0 775 763"/>
<path class="er" d="M842 756A130 130 0 0 1 824 810"/>
<path class="er" d="M842 756A130 130 0 0 0 895 808"/>
<path class="er" d="M775 763A130 130 0 0 0 719 784"/>
<path class="er" d="M775 763A130 130 0 0 1 824 810"/>
<path class="er" d="M775 763A130 130 0 0 0 792 823"/>
<path class="er" d="M679 773A130 130 0 0 0 752 800"/>
<path class="er" d="M679 773A130 130 0 0 1 726 834"/>
<path class="er" d="M614 781A130 130 0 0 0 674 844"/>
<path class="er" d="M719 784A130 130 0 0 1 649 795"/>
<path class="er" d="M719 784A130 130 0 0 0 792 823"/>
<path class="er" d="M796 776A130 130 0 0 0 752 800"/>
<path class="er" d="M796 776A130 130 0 0 1 850 802"/>
<path class="er" d="M649 795A130 130 0 0 0 726 834"/>
<path class="er" d="M752 800A130 130 0 0 0 824 810"/>
<path class="er" d="M752 800A130 130 0 0 1 812 853"/>
<path class="er" d="M548 797A130 130 0 0 0 629 829"/>
<path class="er" d="M850 802A130 130 0 0 0 792 823"/>
<path class="er" d="M850 802A130 130 0 0 1 812 853"/>
<path class="er" d="M824 810A130 130 0 0 0 726 834"/>
<path class="er" d="M895 808A130 130 0 0 0 812 853"/>
<path class="er" d="M792 823A130 130 0 0 0 726 834"/>
<path class="er" d="M726 834A130 130 0 0 0 812 853"/>
<path class="er" d="M674 844A130 130 0 0 0 752 862"/>
<path class="er" d="M812 853A160 160 0 0 0 739 928"/>
<path class="er" d="M752 862A130 130 0 0 0 696 883"/>
<path class="er" d="M910 874A130 130 0 0 0 859 897"/>
<path class="er" d="M700 622A130 130 0 0 0 706 714"/>
<path class="er" d="M810 648A130 130 0 0 0 814 735"/>
<path class="er" d="M810 648A130 130 0 0 1 741 680"/>
<path class="er" d="M754 601A130 130 0 0 0 810 648"/>
<path class="er" d="M779 617A130 130 0 0 0 792 705"/>
<path class="er" d="M664 611A130 130 0 0 0 687 685"/>
<path class="er" d="M603 619A130 130 0 0 0 651 685"/>
<path class="er" d="M710 586A130 130 0 0 0 687 685"/>
<path class="er" d="M574 591A130 130 0 0 0 599 690"/>
<path class="er" d="M545 690A200 200 0 0 0 548 797"/>
<path class="er" d="M541 604A250 250 0 0 1 730 748"/>
<path class="er" d="M574 591A250 250 0 0 1 792 705"/>
<path class="er" d="M710 586A200 200 0 0 1 730 748"/>
<path class="er" d="M664 611A200 200 0 0 1 730 748"/>
<path class="er" d="M754 601A200 200 0 0 0 730 748"/>
<path class="er" d="M700 622A200 200 0 0 1 730 748"/>
<path class="er" d="M603 619A250 250 0 0 1 730 748"/>
<path class="er" d="M810 648A200 200 0 0 0 730 748"/>
<path class="er" d="M545 690A250 250 0 0 1 730 748"/>
<path class="er" d="M565 721A250 250 0 0 0 730 748"/>
<path class="er" d="M590 756A250 250 0 0 1 730 748"/>
<path class="er" d="M548 797A250 250 0 0 1 730 748"/>
<path class="er" d="M545 852A250 250 0 0 1 730 748"/>
<path class="er" d="M606 899A250 250 0 0 1 730 748"/>
<path class="er" d="M696 883A200 200 0 0 1 730 748"/>
<path class="er" d="M739 928A250 250 0 0 0 730 748"/>
<path class="er" d="M752 862A200 200 0 0 0 730 748"/>
<path class="er" d="M812 853A200 200 0 0 0 730 748"/>
<path class="er" d="M865 718A200 200 0 0 0 730 748"/>
<path class="er" d="M887 745A250 250 0 0 0 730 748"/>
<path class="er" d="M895 808A250 250 0 0 0 730 748"/>
<path class="er" d="M930 774A250 250 0 0 0 730 748"/>
<path class="er" d="M792 705A200 200 0 0 1 824 810"/>
<path class="er" d="M792 705A200 200 0 0 1 752 800"/>
<path class="er" d="M618 667A250 250 0 0 1 792 705"/>
<path class="er" d="M651 685A250 250 0 0 0 792 705"/>
<path class="er" d="M792 705A200 200 0 0 1 719 784"/>
<path class="er" d="M792 705A200 200 0 0 0 792 823"/>
<path class="er" d="M792 705A200 200 0 0 0 908 692"/>
<path class="er" d="M824 810A200 200 0 0 1 739 928"/>
<path class="er" d="M824 810A200 200 0 0 0 910 874"/>
<path class="er" d="M824 810A200 200 0 0 0 874 967"/>
<path class="er" d="M824 810A200 200 0 0 1 930 774"/>
<path class="er" d="M741 680A200 200 0 0 1 719 784"/>
<path class="er" d="M741 680A200 200 0 0 0 752 800"/>
<path class="er" d="M741 680A200 200 0 0 1 633 743"/>
<path class="er" d="M618 667A200 200 0 0 0 614 781"/>
<path class="er" d="M651 685A200 200 0 0 1 719 784"/>
<path class="er" d="M651 685A200 200 0 0 0 679 773"/>
<path class="er" d="M618 667A200 200 0 0 1 706 714"/>
<path class="er" d="M606 899A200 200 0 0 1 649 795"/>
<path class="er" d="M606 899A200 200 0 0 0 614 781"/>
<path class="er" d="M606 899A200 200 0 0 1 726 834"/>
<path class="er" d="M548 797A200 200 0 0 0 606 899"/>
<path class="er" d="M545 690A300 300 0 0 0 545 852"/>
<path class="er" d="M599 690A250 250 0 0 0 629 829"/>
<path class="er" d="M814 735A250 250 0 0 1 831 921"/>
<path class="er" d="M824 700A250 250 0 0 1 910 874"/>
<path class="er" d="M842 756A250 250 0 0 1 859 897"/>
<path class="er" d="M865 718A200 200 0 0 1 895 808"/>
<path class="er" d="M810 648A200 200 0 0 1 887 745"/>
<path class="er" d="M796 776A200 200 0 0 0 831 921"/>
<path class="er" d="M775 763A200 200 0 0 1 812 853"/>
<path class="er" d="M752 800A250 250 0 0 0 831 921"/>
<path class="er" d="M719 784A200 200 0 0 0 752 862"/>
<path class="er" d="M679 773A200 200 0 0 1 696 883"/>
<path class="er" d="M678 734A200 200 0 0 1 674 844"/>
<path class="er" d="M706 714A200 200 0 0 0 752 800"/>
<path class="er" d="M751 722A200 200 0 0 0 824 810"/>
<path class="er" d="M814 735A200 200 0 0 1 792 823"/>
<path class="er" d="M649 795A200 200 0 0 0 696 883"/>
<path class="er" d="M629 829A200 200 0 0 0 696 883"/>
<path class="er" d="M726 834A200 200 0 0 0 831 921"/>
<path class="er" d="M792 823A200 200 0 0 1 831 921"/>
<path class="er" d="M850 802A200 200 0 0 1 831 921"/>
<path class="er" d="M850 802A250 250 0 0 0 874 967"/>
<path class="er" d="M895 808A250 250 0 0 1 874 967"/>
<path class="er" d="M812 853A200 200 0 0 0 917 918"/>
<path class="er" d="M859 897A250 250 0 0 0 942 1028"/>
</g>
</g>
<g id="nodes-orange">
<g id="o1"><circle class="no" cx="1424" cy="23" r="5"/></g>
<g id="o2"><circle class="no" cx="1012" cy="78" r="5"/></g>
<g id="o3"><circle class="no" cx="862" cy="120" r="5"/></g>
<g id="o4"><circle class="no" cx="1352" cy="87" r="5"/></g>
<g id="o5"><circle class="no" cx="1343" cy="182" r="5"/></g>
<g id="o6"><circle class="no" cx="1447" cy="246" r="5"/></g>
<g id="o7"><circle class="no" cx="1287" cy="249" r="5"/></g>
<g id="o8"><circle class="no" cx="1356" cy="286" r="5"/></g>
<g id="o9"><circle class="no" cx="1456" cy="327" r="5"/></g>
<g id="o10"><circle class="no" cx="1547" cy="357" r="5"/></g>
<g id="o11"><circle class="no" cx="1218" cy="314" r="5"/></g>
<g id="o12"><circle class="no" cx="1096" cy="272" r="5"/></g>
<g id="o13"><circle class="no" cx="1106" cy="314" r="5"/></g>
<g id="o14"><circle class="no" cx="1076" cy="367" r="5"/></g>
<g id="o15"><circle class="no" cx="1008" cy="353" r="5"/></g>
<g id="o16"><circle class="no" cx="927" cy="279" r="5"/></g>
<g id="o17"><circle class="no" cx="964" cy="258" r="5.5"/></g>
<g id="o18"><circle class="no" cx="996" cy="275" r="5"/></g>
<g id="o19"><circle class="no" cx="1029" cy="276" r="5"/></g>
<g id="o20"><circle class="no" cx="1010" cy="239" r="5"/></g>
<g id="o21"><circle class="no" cx="943" cy="318" r="5"/></g>
<g id="o22"><circle class="no" cx="975" cy="328" r="5"/></g>
<g id="o23"><circle class="no" cx="921" cy="376" r="5"/></g>
<g id="o24"><circle class="no" cx="872" cy="396" r="5"/></g>
<g id="o25"><circle class="no" cx="968" cy="408" r="5"/></g>
<g id="o26"><circle class="no" cx="920" cy="430" r="5"/></g>
<g id="o27"><circle class="no" cx="1012" cy="431" r="5"/></g>
<g id="o28"><circle class="no" cx="915" cy="229" r="5"/></g>
<g id="o29"><circle class="no" cx="982" cy="220" r="5"/></g>
<g id="o30"><circle class="no" cx="955" cy="240" r="5"/></g>
</g>
<g id="nodes-green">
<g id="g1"><circle class="ng" cx="435" cy="350" r="6"/></g>
<g id="g2"><circle class="ng" cx="490" cy="375" r="6"/></g>
<g id="g3"><circle class="ng" cx="395" cy="402" r="6"/></g>
<g id="g4"><circle class="ng" cx="444" cy="436" r="6"/></g>
<g id="g5"><circle class="ng" cx="520" cy="467" r="6"/></g>
<g id="g6"><circle class="ng" cx="403" cy="481" r="6"/></g>
<g id="g7"><circle class="ng" cx="590" cy="292" r="6"/></g>
<g id="g8"><circle class="ng" cx="665" cy="306" r="6"/></g>
<g id="g9"><circle class="ng" cx="746" cy="345" r="6"/></g>
<g id="g10"><circle class="ng" cx="670" cy="356" r="6"/></g>
<g id="g11"><circle class="ng" cx="613" cy="392" r="6"/></g>
<g id="g12"><circle class="ng" cx="768" cy="396" r="6"/></g>
<g id="g13"><circle class="ng" cx="696" cy="416" r="6"/></g>
<g id="g14"><circle class="ng" cx="578" cy="436" r="6"/></g>
<g id="g15"><circle class="ng" cx="788" cy="487" r="6"/></g>
</g>
<g id="nodes-yellow">
<g id="y1"><circle class="ny" cx="858" cy="507" r="5.5"/></g>
<g id="y2"><circle class="ny" cx="936" cy="514" r="5.5"/></g>
<g id="y3"><circle class="ny" cx="1016" cy="530" r="5.5"/></g>
<g id="y4"><circle class="ny" cx="936" cy="570" r="5.5"/></g>
<g id="y5"><circle class="ny" cx="897" cy="588" r="5.5"/></g>
<g id="y6"><circle class="ny" cx="1006" cy="589" r="6"/></g>
<g id="y7"><circle class="ny" cx="1055" cy="593" r="6"/></g>
<g id="y8"><circle class="ny" cx="970" cy="610" r="6"/></g>
<g id="y9"><circle class="ny" cx="1018" cy="626" r="5.5"/></g>
<g id="y10"><circle class="ny" cx="872" cy="640" r="5.5"/></g>
<g id="y11"><circle class="ny" cx="942" cy="635" r="6"/></g>
<g id="y12"><circle class="ny" cx="1087" cy="639" r="5.5"/></g>
<g id="y13"><circle class="ny" cx="1005" cy="664" r="5.5"/></g>
<g id="y14"><circle class="ny" cx="952" cy="731" r="5.5"/></g>
<g id="y15"><circle class="ny" cx="1019" cy="783" r="5.5"/></g>
<g id="y16"><circle class="ny" cx="1097" cy="802" r="5.5"/></g>
<g id="y17"><circle class="ny" cx="1023" cy="869" r="6"/></g>
<g id="y18"><circle class="ny" cx="1145" cy="869" r="5.5"/></g>
<g id="y19"><circle class="ny" cx="1124" cy="935" r="5.5"/></g>
<g id="y20"><circle class="ny" cx="1049" cy="964" r="5.5"/></g>
<g id="y21"><circle class="ny" cx="1084" cy="991" r="5.5"/></g>
<g id="y22"><circle class="ny" cx="1112" cy="704" r="5"/></g>
</g>
<g id="nodes-cyan">
<g id="c1"><circle class="nc" cx="156" cy="926" r="6.5"/></g>
<g id="c2"><circle class="nc" cx="100" cy="944" r="6.5"/></g>
<g id="c3"><circle class="nc" cx="224" cy="969" r="6.5"/></g>
<g id="c4"><circle class="nc" cx="104" cy="1006" r="6.5"/></g>
<g id="c5"><circle class="nc" cx="164" cy="1008" r="6.5"/></g>
<g id="c6"><circle class="nc" cx="270" cy="904" r="6.5"/></g>
<g id="c7"><circle class="nc" cx="317" cy="914" r="6.5"/></g>
<g id="c8"><circle class="nc" cx="297" cy="1034" r="6.5"/></g>
<g id="c9"><circle class="nc" cx="134" cy="1056" r="6.5"/></g>
<g id="c10"><circle class="nc" cx="197" cy="1078" r="6.5"/></g>
<g id="c11"><circle class="nc" cx="246" cy="1085" r="6.5"/></g>
</g>
<g id="nodes-red">
<g id="r1"><circle class="nr" cx="574" cy="591" r="5"/></g>
<g id="r2"><circle class="nr" cx="541" cy="604" r="5"/></g>
<g id="r3"><circle class="nr" cx="710" cy="586" r="5"/></g>
<g id="r4"><circle class="nr" cx="837" cy="595" r="5"/></g>
<g id="r5"><circle class="nr" cx="664" cy="611" r="5"/></g>
<g id="r6"><circle class="nr" cx="754" cy="601" r="5"/></g>
<g id="r7"><circle class="nr" cx="779" cy="617" r="5"/></g>
<g id="r8"><circle class="nr" cx="603" cy="619" r="5"/></g>
<g id="r9"><circle class="nr" cx="700" cy="622" r="5"/></g>
<g id="r10"><circle class="nr" cx="810" cy="648" r="5"/></g>
<g id="r11"><circle class="nr" cx="908" cy="692" r="4.3"/></g>
<g id="r12"><circle class="nr" cx="618" cy="667" r="6"/></g>
<g id="r13"><circle class="nr" cx="599" cy="690" r="6"/></g>
<g id="r14"><circle class="nr" cx="651" cy="685" r="6"/></g>
<g id="r15"><circle class="nr" cx="687" cy="685" r="5.2"/></g>
<g id="r16"><circle class="nr" cx="741" cy="680" r="6"/></g>
<g id="r17"><circle class="nr" cx="545" cy="690" r="5"/></g>
<g id="r18"><circle class="nr" cx="824" cy="700" r="5"/></g>
<g id="r19"><circle class="nr" cx="792" cy="705" r="6.2"/></g>
<g id="r20"><circle class="nr" cx="865" cy="718" r="5"/></g>
<g id="r21"><circle class="nr" cx="565" cy="721" r="5"/></g>
<g id="r22"><circle class="nr" cx="616" cy="719" r="5.5"/></g>
<g id="r23"><circle class="nr" cx="646" cy="719" r="5.5"/></g>
<g id="r24"><circle class="nr" cx="706" cy="714" r="5.5"/></g>
<g id="r25"><circle class="nr" cx="751" cy="722" r="5.5"/></g>
<g id="r26"><circle class="nr" cx="814" cy="735" r="6"/></g>
<g id="r27"><circle class="nr" cx="678" cy="734" r="5"/></g>
<g id="r28"><circle class="nr" cx="730" cy="748" r="7"/></g>
<g id="r29"><circle class="nr" cx="633" cy="743" r="5"/></g>
<g id="r30"><circle class="nr" cx="590" cy="756" r="5"/></g>
<g id="r31"><circle class="nr" cx="887" cy="745" r="5"/></g>
<g id="r32"><circle class="nr" cx="842" cy="756" r="5"/></g>
<g id="r33"><circle class="nr" cx="775" cy="763" r="5.5"/></g>
<g id="r34"><circle class="nr" cx="679" cy="773" r="5"/></g>
<g id="r35"><circle class="nr" cx="614" cy="781" r="5"/></g>
<g id="r36"><circle class="nr" cx="719" cy="784" r="5.5"/></g>
<g id="r37"><circle class="nr" cx="796" cy="776" r="5"/></g>
<g id="r38"><circle class="nr" cx="930" cy="774" r="5"/></g>
<g id="r39"><circle class="nr" cx="649" cy="795" r="5"/></g>
<g id="r40"><circle class="nr" cx="752" cy="800" r="5.5"/></g>
<g id="r41"><circle class="nr" cx="548" cy="797" r="5.5"/></g>
<g id="r42"><circle class="nr" cx="850" cy="802" r="5"/></g>
<g id="r43"><circle class="nr" cx="824" cy="810" r="6"/></g>
<g id="r44"><circle class="nr" cx="895" cy="808" r="5"/></g>
<g id="r45"><circle class="nr" cx="792" cy="823" r="5"/></g>
<g id="r46"><circle class="nr" cx="629" cy="829" r="5"/></g>
<g id="r47"><circle class="nr" cx="726" cy="834" r="5"/></g>
<g id="r48"><circle class="nr" cx="545" cy="852" r="5.5"/></g>
<g id="r49"><circle class="nr" cx="674" cy="844" r="5"/></g>
<g id="r50"><circle class="nr" cx="812" cy="853" r="5"/></g>
<g id="r51"><circle class="nr" cx="962" cy="847" r="5"/></g>
<g id="r52"><circle class="nr" cx="752" cy="862" r="5"/></g>
<g id="r53"><circle class="nr" cx="910" cy="874" r="5"/></g>
<g id="r54"><circle class="nr" cx="696" cy="883" r="5"/></g>
<g id="r55"><circle class="nr" cx="606" cy="899" r="6"/></g>
<g id="r56"><circle class="nr" cx="859" cy="897" r="5"/></g>
<g id="r57"><circle class="nr" cx="509" cy="907" r="5"/></g>
<g id="r58"><circle class="nr" cx="831" cy="921" r="5"/></g>
<g id="r59"><circle class="nr" cx="917" cy="918" r="5"/></g>
<g id="r60"><circle class="nr" cx="739" cy="928" r="5"/></g>
<g id="r61"><circle class="nr" cx="583" cy="946" r="5"/></g>
<g id="r62"><circle class="nr" cx="874" cy="967" r="5"/></g>
<g id="r63"><circle class="nr" cx="449" cy="999" r="5"/></g>
<g id="r64"><circle class="nr" cx="942" cy="1028" r="5"/></g>
<g id="r65"><circle class="nr" cx="649" cy="445" r="5" fill-opacity=".8"/></g>
<g id="h1"><circle class="nh" cx="640" cy="890" r="4.5"/></g>
<g id="h2"><circle class="nh" cx="636" cy="971" r="4.5"/></g>
</g>
</g>
<g id="label-2">
<rect class="bg" x="1055" y="228" width="1782" height="90"/>
<text class="t" x="1002" y="302" font-size="73" textLength="1826" lengthAdjust="spacingAndGlyphs">2.GREEN &amp; SUSTAINABLE SCIENCE &amp; TECHNOLOGY</text>
<text class="s" x="1537" y="364" font-size="52" textLength="832" lengthAdjust="spacingAndGlyphs">multi-modal shared mobility</text>
<text class="p" x="1537" y="416" font-size="45" textLength="818" lengthAdjust="spacingAndGlyphs">(delivering smart urban mobility)</text>
</g>
<g id="label-4">
<rect class="bg" x="945" y="883" width="519" height="87"/>
<text class="t" x="881" y="959" font-size="68" textLength="575" lengthAdjust="spacingAndGlyphs">4.DEMOGRAPHY</text>
<text class="s" x="978" y="1020" font-size="52" textLength="460" lengthAdjust="spacingAndGlyphs">disease spread</text>
<text class="p" x="797" y="1073" font-size="45" textLength="891" lengthAdjust="spacingAndGlyphs">(emergency containment measure)</text>
</g>
<g id="label-1">
<rect class="bg" x="359" y="1160" width="1110" height="93"/>
<text class="t" x="299" y="1233" font-size="70" textLength="1163" lengthAdjust="spacingAndGlyphs">1.MULTIDISCIPLINARY SCIENCES</text>
<text class="s" x="598" y="1297" font-size="51" textLength="411" lengthAdjust="spacingAndGlyphs">mobile phone</text>
<text class="p" x="512" y="1350" font-size="45" textLength="514" lengthAdjust="spacingAndGlyphs">(mobile phone data)</text>
</g>
<g id="label-3">
<rect class="bg" x="1800" y="1250" width="655" height="88"/>
<text class="t" x="1746" y="1328" font-size="71" textLength="706" lengthAdjust="spacingAndGlyphs">3.TRANSPORTATION</text>
<text class="s" x="1847" y="1398" font-size="50" textLength="623" lengthAdjust="spacingAndGlyphs">historical trajectories</text>
<text class="p" x="1845" y="1448" font-size="44" textLength="617" lengthAdjust="spacingAndGlyphs">(long short-term pattern)</text>
</g>
<g id="label-5">
<rect class="bg" x="86" y="1493" width="871" height="94"/>
<text class="t" x="22" y="1563" font-size="64" textLength="925" lengthAdjust="spacingAndGlyphs">5.MATHEMATICS, APPLIED</text>
<text class="s" x="146" y="1618" font-size="47" textLength="741" lengthAdjust="spacingAndGlyphs">ground-based promotion</text>
<text class="p" x="297" y="1669" font-size="44" textLength="479" lengthAdjust="spacingAndGlyphs">(location selection)</text>
</g>
<g id="label-6">
<rect class="bg" x="1035" y="1840" width="585" height="87"/>
<text class="t" x="972" y="1912" font-size="68" textLength="639" lengthAdjust="spacingAndGlyphs">6.URBAN STUDIES</text>
<text class="s" x="1030" y="1974" font-size="51" textLength="565" lengthAdjust="spacingAndGlyphs">population mobility</text>
<text class="p" x="1192" y="2026" font-size="44" textLength="240" lengthAdjust="spacingAndGlyphs">(big data)</text>
</g>
</svg>
